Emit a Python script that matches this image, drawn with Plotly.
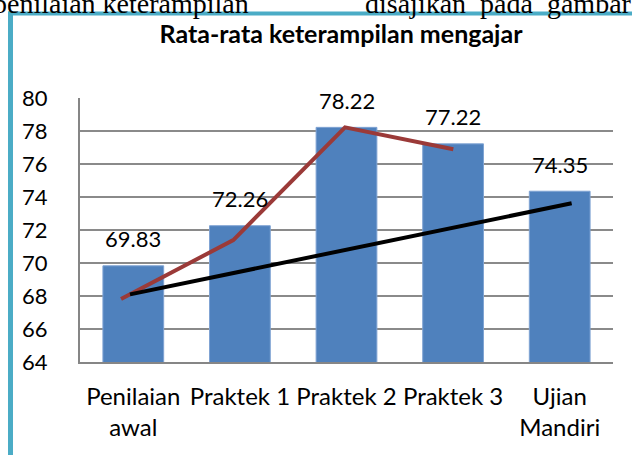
import plotly.graph_objects as go

categories = ["Penilaian<br>awal", "Praktek 1", "Praktek 2", "Praktek 3", "Ujian<br>Mandiri"]
cat_pos = [0, 1, 2, 3, 4]
values = [69.83, 72.26, 78.22, 77.22, 74.35]

# hand-drawn red polyline (x in category units, y in score units)
red_x = [-0.115, 0.938, 1.986, 3.002]
red_y = [67.82, 71.39, 78.22, 76.89]

# hand-drawn black trend line
black_x = [-0.031, 4.112]
black_y = [68.10, 73.62]

y_ticks = [64, 66, 68, 70, 72, 74, 76, 78, 80]

FONT = "Lato"

fig = go.Figure()
fig.add_trace(go.Bar(
    x=cat_pos, y=values, width=0.57,
    marker=dict(color="#4F81BD", line=dict(color="#7FA3D3", width=1)),
    showlegend=False, hoverinfo="skip",
))
fig.add_trace(go.Scatter(
    x=red_x, y=red_y, mode="lines",
    line=dict(color="#9B3A38", width=4),
    showlegend=False, hoverinfo="skip",
))
fig.add_trace(go.Scatter(
    x=black_x, y=black_y, mode="lines",
    line=dict(color="#000000", width=4),
    showlegend=False, hoverinfo="skip",
))

for xv, v in zip(cat_pos, values):
    fig.add_annotation(
        x=xv, y=v, xref="x", yref="y", text=f"{v:.2f}",
        showarrow=False, yanchor="middle", yshift=27,
        font=dict(family=FONT, size=22, color="#000000"),
    )

plot_l, plot_r, plot_t, plot_b = 80, 613, 98, 362
def px_to_paper_x(px):
    return (px - plot_l) / (plot_r - plot_l)
def px_to_paper_y(py):
    return (plot_b - py) / (plot_b - plot_t)

# partially cut-off document text above the chart frame
doc_font = dict(family="Liberation Serif", size=28, color="#000000")
fig.add_annotation(x=px_to_paper_x(251), y=px_to_paper_y(3.5), xref="paper", yref="paper",
                   text="penilaian keterampilan", showarrow=False,
                   xanchor="right", yanchor="middle", font=doc_font)
fig.add_annotation(x=px_to_paper_x(363), y=px_to_paper_y(3.5), xref="paper", yref="paper",
                   text="disajikan&nbsp; pada&nbsp; gambar", showarrow=False,
                   xanchor="left", yanchor="middle", font=doc_font)

# teal frame
teal = "#4BACC6"
fig.add_shape(type="line", xref="paper", yref="paper",
              x0=px_to_paper_x(10.5), x1=px_to_paper_x(10.5),
              y0=px_to_paper_y(11.5), y1=px_to_paper_y(470),
              line=dict(color=teal, width=5))
fig.add_shape(type="line", xref="paper", yref="paper",
              x0=px_to_paper_x(8), x1=px_to_paper_x(650),
              y0=px_to_paper_y(13.5), y1=px_to_paper_y(13.5),
              line=dict(color=teal, width=4))

fig.update_layout(
    width=632, height=455,
    margin=dict(l=plot_l, r=632 - plot_r, t=plot_t, b=455 - plot_b),
    paper_bgcolor="white", plot_bgcolor="white",
    title=dict(text="<b>Rata-rata keterampilan mengajar</b>",
               x=341 / 632, xref="container", xanchor="center",
               y=1 - 34 / 455, yref="container", yanchor="middle",
               font=dict(family=FONT, size=25, color="#000000")),
    xaxis=dict(range=[-0.5, 4.5], tickmode="array", tickvals=cat_pos, ticktext=categories,
               showgrid=False, zeroline=False, showline=True, linecolor="#868686", linewidth=2,
               ticks="", ticklabelstandoff=12,
               tickfont=dict(family=FONT, size=24, color="#000000")),
    yaxis=dict(range=[64, 80], tickmode="array", tickvals=y_ticks,
               showgrid=True, gridcolor="#8A8A8A", gridwidth=1.5,
               zeroline=False, showline=True, linecolor="#868686", linewidth=2,
               ticks="", ticklabelstandoff=26,
               tickfont=dict(family=FONT, size=22, color="#000000")),
    font=dict(family=FONT),
)

fig.write_html("out.html", config={"displayModeBar": False},
               post_script="document.body.style.margin='0';")
